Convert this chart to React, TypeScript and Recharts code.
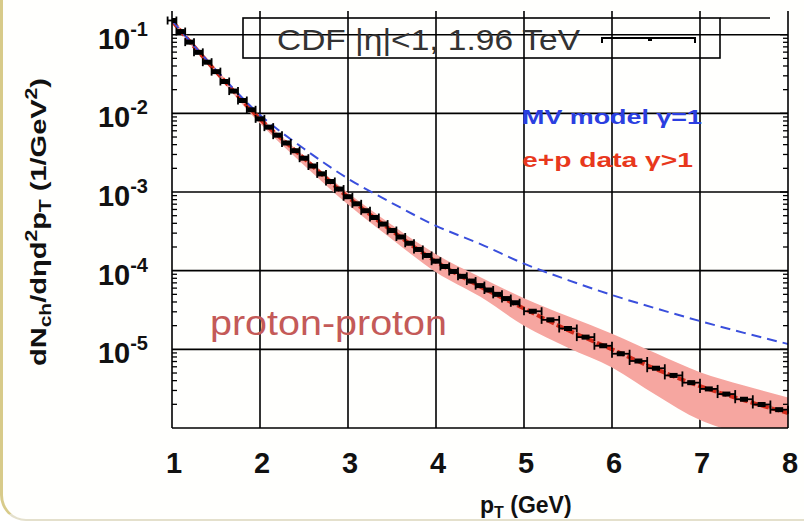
import React from 'react';
import {
  ComposedChart,
  Line,
  Area,
  Scatter,
  ErrorBar,
  XAxis,
  YAxis,
  CartesianGrid,
} from 'recharts';

// CDF |eta|<1 charged-hadron spectrum at 1.96 TeV (fine bins, 0.1 GeV wide)
const CDF_PT_FINE = [
  1.0, 1.1, 1.2, 1.3, 1.4, 1.5, 1.6, 1.7, 1.8, 1.9,
  2.0, 2.1, 2.2, 2.3, 2.4, 2.5, 2.6, 2.7, 2.8, 2.9,
  3.0, 3.1, 3.2, 3.3, 3.4, 3.5, 3.6, 3.7, 3.8, 3.9,
  4.0, 4.1, 4.2, 4.3, 4.4, 4.5, 4.6, 4.7, 4.8, 4.9,
];
const CDF_YIELD_FINE = [
  0.1514, 0.1096, 0.0804, 0.0596, 0.0447, 0.0339, 0.0254, 0.0192, 0.01456, 0.01109,
  0.00851, 0.00668, 0.00528, 0.0042, 0.00335, 0.00269, 0.00214, 0.0017, 0.00136, 0.00109,
  8.71e-4, 7.08e-4, 5.78e-4, 4.74e-4, 3.91e-4, 3.24e-4, 2.68e-4, 2.23e-4, 1.86e-4, 1.56e-4,
  1.32e-4, 1.13e-4, 9.77e-5, 8.47e-5, 7.38e-5, 6.46e-5, 5.68e-5, 5.0e-5, 4.42e-5, 3.91e-5,
];
const CDF_HALF_BIN_FINE = 0.05;

// coarse bins, 0.2 GeV wide
const CDF_PT_COARSE = [5.1, 5.3, 5.5, 5.7, 5.9, 6.1, 6.3, 6.5, 6.7, 6.9, 7.1, 7.3, 7.5, 7.7, 7.9];
const CDF_YIELD_COARSE = [
  3.05e-5, 2.37e-5, 1.84e-5, 1.43e-5, 1.11e-5, 8.79e-6, 7.11e-6, 5.75e-6,
  4.66e-6, 3.77e-6, 3.14e-6, 2.7e-6, 2.32e-6, 1.99e-6, 1.71e-6,
];
const CDF_HALF_BIN_COARSE = 0.1;

// model curves, sampled every 0.5 GeV
const CURVE_PT = [1.0, 1.5, 2.0, 2.5, 3.0, 3.5, 4.0, 4.5, 5.0, 5.5, 6.0, 6.5, 7.0, 7.5, 8.0];
const MV_GAMMA_1 = [
  0.151, 0.0355, 0.00955, 0.00355, 0.00148, 7.24e-4, 3.72e-4, 2.19e-4,
  1.23e-4, 7.59e-5, 4.9e-5, 3.31e-5, 2.29e-5, 1.62e-5, 1.17e-5,
];
const EP_CENTRAL = [
  0.15, 0.034, 0.0085, 0.00268, 8.6e-4, 3.2e-4, 1.3e-4, 6.3e-5,
  3.3e-5, 1.75e-5, 1.0e-5, 5.6e-6, 3.4e-6, 2.25e-6, 1.55e-6,
];
const EP_BAND_HIGH = [
  0.162, 0.0372, 0.00912, 0.00288, 9.77e-4, 3.8e-4, 1.62e-4, 8.32e-5,
  4.47e-5, 2.63e-5, 1.58e-5, 8.91e-6, 5.13e-6, 3.47e-6, 2.45e-6,
];
const EP_BAND_LOW = [
  0.141, 0.0316, 0.00741, 0.00219, 6.92e-4, 2.51e-4, 9.55e-5, 4.68e-5,
  2.0e-5, 1.05e-5, 5.89e-6, 2.63e-6, 1.26e-6, 8.3e-7, 6.0e-7,
];

const X_TICKS = [1, 2, 3, 4, 5, 6, 7, 8];
const X_GRID = [2, 3, 4, 5, 6, 7];
const Y_MAJOR = [1e-1, 1e-2, 1e-3, 1e-4, 1e-5];
const Y_EXPONENT_LABELS: Record<string, string> = {
  '0.1': '-1',
  '0.01': '-2',
  '0.001': '-3',
  '0.0001': '-4',
  '0.00001': '-5',
};
const Y_DOMAIN: [number, number] = [1e-6, 0.2];

const FONT = '"Liberation Sans", Arial, Helvetica, sans-serif';

const cdfPoints = [
  ...CDF_PT_FINE.map((pt, i) => ({ pt, y: CDF_YIELD_FINE[i], ex: CDF_HALF_BIN_FINE })),
  ...CDF_PT_COARSE.map((pt, i) => ({ pt, y: CDF_YIELD_COARSE[i], ex: CDF_HALF_BIN_COARSE })),
];
const curveRows = CURVE_PT.map((pt, i) => ({
  pt,
  mv: MV_GAMMA_1[i],
  ep: EP_CENTRAL[i],
  band: [EP_BAND_LOW[i], EP_BAND_HIGH[i]],
}));

// log minor tick positions (2..9 x each decade)
const yMinor: number[] = [];
for (let e = -6; e <= -1; e++) {
  for (let m = 2; m <= 9; m++) {
    const v = m * Math.pow(10, e);
    if (v < Y_DOMAIN[1]) yMinor.push(Number(v.toPrecision(3)));
  }
}
const yAllTicks = [...Y_MAJOR, ...yMinor].sort((a, b) => a - b);

const isMajor = (v: number) => Y_MAJOR.some((m) => Math.abs(Math.log10(v) - Math.log10(m)) < 1e-6);

const LEFT_MARGIN = 24;

const LeftTick = (props: any) => {
  const { x, y, payload } = props;
  const v = payload.value as number;
  const edge = x + LEFT_MARGIN;
  const major = isMajor(v);
  const exp = major ? Y_EXPONENT_LABELS[String(v)] ?? String(Math.round(Math.log10(v))) : '';
  return (
    <g>
      {!major && <line x1={edge} x2={edge + 5} y1={y} y2={y} stroke="#000" strokeWidth={1.3} />}
      {major && (
        <text x={x} y={y + 14} textAnchor="end" fontFamily={FONT} fontWeight="bold" fill="#111">
          <tspan fontSize={29}>10</tspan>
          <tspan fontSize={20} dy={-13}>{exp}</tspan>
        </text>
      )}
    </g>
  );
};

const RightTick = (props: any) => {
  const { x, y, payload } = props;
  const major = isMajor(payload.value);
  return <line x1={x - (major ? 8 : 5)} x2={x} y1={y} y2={y} stroke="#000" strokeWidth={1.3} />;
};

const BottomTick = (props: any) => {
  const { x, y, payload } = props;
  return (
    <text x={x + 2} y={y + 45} textAnchor="middle" fontFamily={FONT} fontWeight="bold" fontSize={29} fill="#111">
      {payload.value}
    </text>
  );
};

const Marker = (props: any) => {
  const { cx, cy } = props;
  return <rect x={cx - 4} y={cy - 2.5} width={8} height={5} fill="#000" />;
};

export default function App() {
  const W = 804;
  const H = 526;
  return (
    <div style={{ position: 'absolute', left: 0, top: 0, width: W, height: H, background: '#ffffff', overflow: 'hidden' }}>
      <div
        style={{
          position: 'absolute',
          left: 0,
          top: -40,
          width: W + 40,
          height: 561,
          boxSizing: 'border-box',
          borderLeft: '3px solid #d8cb8a',
          borderBottom: '2px solid #e4e0cc',
          borderBottomLeftRadius: 26,
          background: '#fffffd',
        }}
      />
      <div style={{ position: 'absolute', left: 0, top: 0 }}>
        <ComposedChart width={W} height={H} margin={{ top: 11, right: 0, bottom: 0, left: 0 }}>
          <XAxis
            dataKey="pt"
            type="number"
            domain={[1, 8]}
            ticks={X_TICKS}
            interval={0}
            height={98}
            tickLine={false}
            tickSize={0}
            tickMargin={0}
            axisLine={{ stroke: '#000', strokeWidth: 1.6 }}
            tick={<BottomTick />}
            allowDataOverflow
          />
          <XAxis
            xAxisId="top"
            orientation="top"
            type="number"
            domain={[1, 8]}
            height={0}
            tick={false}
            tickLine={false}
            axisLine={{ stroke: '#000', strokeWidth: 1.6 }}
          />
          <YAxis
            scale="log"
            type="number"
            domain={Y_DOMAIN}
            allowDataOverflow
            ticks={yAllTicks}
            interval={0}
            width={172}
            tickLine={false}
            tickSize={0}
            tickMargin={LEFT_MARGIN}
            axisLine={{ stroke: '#000', strokeWidth: 1.6 }}
            tick={<LeftTick />}
          />
          <YAxis
            yAxisId="right"
            orientation="right"
            scale="log"
            type="number"
            domain={Y_DOMAIN}
            allowDataOverflow
            ticks={yAllTicks}
            interval={0}
            width={16}
            tickLine={false}
            tickSize={0}
            tickMargin={0}
            axisLine={{ stroke: '#000', strokeWidth: 1.6 }}
            tick={<RightTick />}
          />
          <Area
            data={curveRows}
            dataKey="band"
            type="monotone"
            stroke="none"
            fill="#f6a6a0"
            fillOpacity={1}
            isAnimationActive={false}
          />
          <CartesianGrid
            stroke="#000"
            strokeWidth={1.6}
            horizontalValues={Y_MAJOR}
            verticalValues={X_GRID}
          />
          <Line
            data={curveRows}
            dataKey="ep"
            type="monotone"
            stroke="#d42a1a"
            strokeWidth={4}
            strokeDasharray="8 3"
            dot={false}
            isAnimationActive={false}
          />
          <Line
            data={curveRows}
            dataKey="mv"
            type="monotone"
            stroke="#3a4fdc"
            strokeWidth={2}
            strokeDasharray="10 6"
            dot={false}
            isAnimationActive={false}
          />
          <Scatter data={cdfPoints} dataKey="y" shape={<Marker />} isAnimationActive={false}>
            <ErrorBar dataKey="ex" direction="x" width={4} stroke="#000" strokeWidth={1.8} isAnimationActive={false} />
          </Scatter>
        </ComposedChart>
      </div>
      <svg width={W} height={H} style={{ position: 'absolute', left: 0, top: 0, pointerEvents: 'none' }}>
        {/* legend box */}
        <rect x={243} y={18} width={477} height={40} fill="none" stroke="#000" strokeWidth={1.6} />
        <line x1={720} x2={770} y1={18} y2={18} stroke="#000" strokeWidth={1.4} />
        <text x={277} y={50} fontFamily={FONT} fontSize={29} fill="#333" textLength={303} lengthAdjust="spacingAndGlyphs">
          CDF |η|&lt;1, 1.96 TeV
        </text>
        <line x1={602} x2={695} y1={38} y2={38} stroke="#000" strokeWidth={2} />
        <line x1={602} x2={602} y1={37} y2={43} stroke="#000" strokeWidth={2} />
        <line x1={695} x2={695} y1={37} y2={43} stroke="#000" strokeWidth={2} />
        <rect x={648} y={37} width={4} height={4} fill="#000" />

        <text x={522} y={124} fontFamily={FONT} fontWeight="bold" fontSize={21} fill="#2b3fe0" textLength={180} lengthAdjust="spacingAndGlyphs">
          MV model γ=1
        </text>
        <text x={522} y={167} fontFamily={FONT} fontWeight="bold" fontSize={21} fill="#e8381c" textLength={171} lengthAdjust="spacingAndGlyphs">
          e+p data  γ&gt;1
        </text>
        <text x={210} y={335} fontFamily={FONT} fontSize={35} fill="#c45a58" textLength={237} lengthAdjust="spacingAndGlyphs">
          proton-proton
        </text>

        {/* axis titles */}
        <text x={480} y={513} fontFamily={FONT} fontWeight="bold" fontSize={23} fill="#111">
          <tspan>p</tspan>
          <tspan fontSize={16} dy={5}>T</tspan>
          <tspan dy={-5}> (GeV)</tspan>
        </text>
        <text
          transform="translate(46 222) rotate(-90)"
          textAnchor="middle"
          fontFamily={FONT}
          fontWeight="bold"
          fontSize={22}
          fill="#111"
          textLength={288}
          lengthAdjust="spacingAndGlyphs"
        >
          <tspan>dN</tspan>
          <tspan fontSize={16} dy={5}>ch</tspan>
          <tspan dy={-5}>/dηd</tspan>
          <tspan fontSize={16} dy={-9}>2</tspan>
          <tspan dy={9}>p</tspan>
          <tspan fontSize={16} dy={5}>T</tspan>
          <tspan dy={-5}> (1/GeV</tspan>
          <tspan fontSize={16} dy={-9}>2</tspan>
          <tspan dy={9}>)</tspan>
        </text>
      </svg>
    </div>
  );
}
